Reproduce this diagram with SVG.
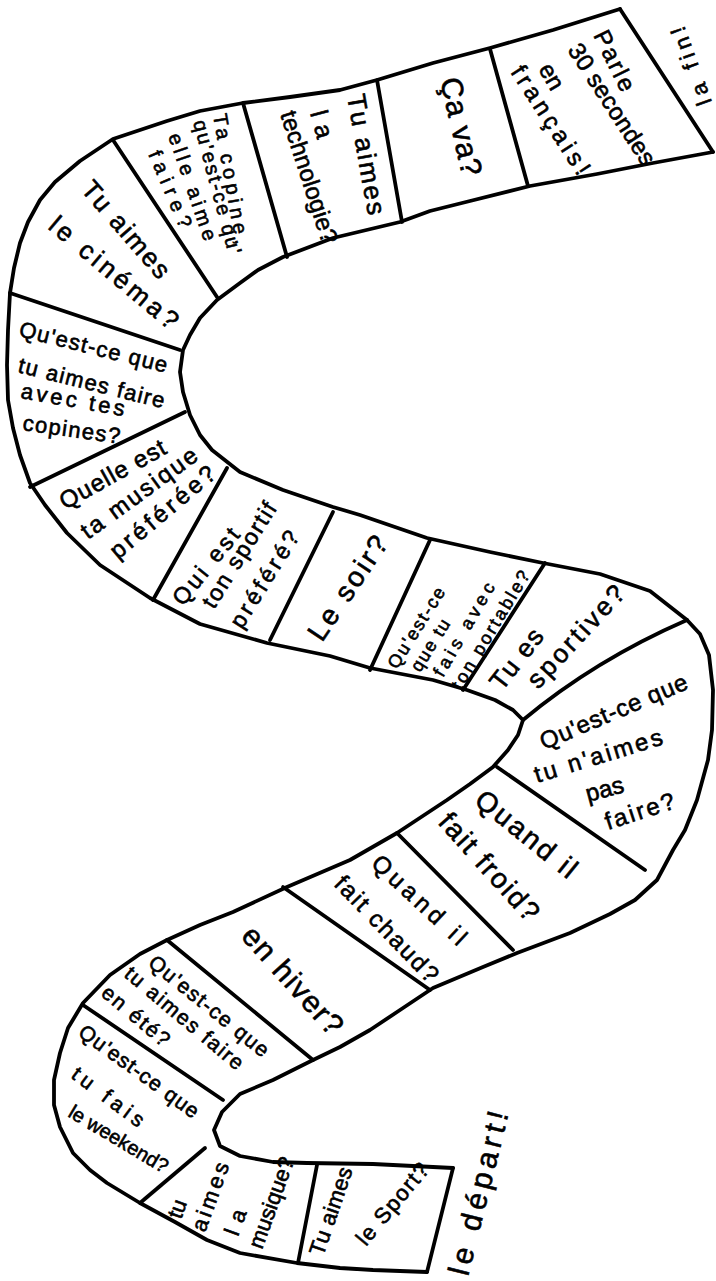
<svg xmlns="http://www.w3.org/2000/svg" width="716" height="1281" viewBox="0 0 716 1281">
<style>
.ln{fill:none;stroke:#000;stroke-width:3.8;stroke-linecap:round;stroke-linejoin:round}
text{font-family:"Liberation Sans",Arial,sans-serif;fill:#000;stroke:#000;stroke-width:0.6}
</style>
<rect x="0" y="0" width="716" height="1281" fill="#fff"/>
<g id="board-outline">
<path class="ln" d="M620,9 L553,30 L490,48 L433,63 L377,80 L340,90 L290,97 L243,103 L200,111 L167,121 L113,139 L80,161 L55,182 L40,200 L28,222 L20,243 L14,268 L10,293 L8,330 L7,365 L8,400 L13,428 L20,455 L30,483 L45,505 L67,533 L100,565 L150,598 L200,624 L267,643 L330,656 L370,668 L433,680 L467,690 L495,700 L513,710 L523,720 L518,735 L508,750 L493,767 L470,784 L447,800 L397,833 L350,860 L287,887 L233,912 L200,925 L167,940 L140,954 L110,975 L83,1003 L68,1028 L60,1053 L54,1080 L54,1105 L60,1127 L73,1153 L90,1170 L107,1183 L140,1203 L175,1222 L207,1240 L240,1253 L297,1263 L340,1268 L373,1270 L427,1272"/>
<path class="ln" d="M713,152 L653,163 L597,174 L530,186 L470,201 L430,211 L400,222 L333,238 L283,257 L258,270 L240,283 L217,300 L200,318 L190,335 L183,350 L180,372 L183,392 L190,415 L200,435 L212,450 L240,472 L283,490 L333,507 L360,515 L427,538 L490,552 L543,563 L600,574 L650,591 L687,620 L700,634 L709,655 L713,690 L712,730 L708,760 L697,800 L685,830 L673,850 L657,880 L635,900 L610,914 L570,933 L517,953 L483,967 L433,988 L400,1010 L370,1030 L340,1047 L313,1060 L273,1080 L240,1094 L222,1112 L214,1130 L220,1146 L240,1156 L273,1162 L307,1163 L373,1164 L453,1168"/>
<path class="ln" d="M620,9 L713,152"/>
<path class="ln" d="M453,1168 L427,1272"/>
</g>
<g id="connectors">
<path class="ln" d="M490,49 L528,186"/>
<path class="ln" d="M377,80 L402,222"/>
<path class="ln" d="M243,103 L287,257"/>
<path class="ln" d="M113,140 L217,297"/>
<path class="ln" d="M10,293 L180,350"/>
<path class="ln" d="M185,412 L30,487"/>
<path class="ln" d="M227,468 L153,600"/>
<path class="ln" d="M333,512 L270,640"/>
<path class="ln" d="M430,540 L370,670"/>
<path class="ln" d="M545,563 L463,690"/>
<path class="ln" d="M687,620 Q595,660 523,720"/>
<path class="ln" d="M497,767 L645,870"/>
<path class="ln" d="M397,833 L513,950"/>
<path class="ln" d="M283,887 L430,990"/>
<path class="ln" d="M167,940 L313,1060"/>
<path class="ln" d="M83,1005 L223,1100"/>
<path class="ln" d="M205,1148 L140,1203"/>
<path class="ln" d="M317,1165 L298,1263"/>
</g>
<g id="cell-parle" font-size="24">
<text transform="translate(593,35) rotate(64)" textLength="65">Parle</text>
<text transform="translate(567,50) rotate(57)" textLength="140">30 secondes</text>
<text transform="translate(538,69) rotate(60)">en</text>
<text transform="translate(510,72) rotate(57)" textLength="125">français!</text>
</g>
<g id="cell-ca-va" font-size="30">
<text transform="translate(440,80) rotate(77)" textLength="100">Ça va?</text>
</g>
<g id="cell-technologie">
<text transform="translate(347,96) rotate(80)" font-size="26" textLength="122">Tu aimes</text>
<text transform="translate(310,113) rotate(75)" font-size="25" textLength="28">la</text>
<text transform="translate(280,114) rotate(72)" font-size="24" textLength="138">technologie?</text>
</g>
<g id="cell-copine" font-size="20">
<text transform="translate(213,115) rotate(80)" textLength="132">Ta copine,</text>
<text transform="translate(193,122) rotate(75)" textLength="138">qu'est-ce qu'</text>
<text transform="translate(168,136) rotate(71)" textLength="112">elle aime</text>
<text transform="translate(148,154) rotate(67)" textLength="82">faire?</text>
</g>
<g id="cell-cinema" font-size="26">
<text transform="translate(80,190) rotate(49)" textLength="120">Tu aimes</text>
<text transform="translate(47,228) rotate(40)" textLength="160">le cinéma?</text>
</g>
<g id="cell-copines" font-size="22">
<text transform="translate(18,336) rotate(14)" textLength="152">Qu'est-ce que</text>
<text transform="translate(17,372) rotate(14)" textLength="150">tu aimes faire</text>
<text transform="translate(20,398) rotate(10)" textLength="105">avec tes</text>
<text transform="translate(22,430) rotate(8)" textLength="98">copines?</text>
</g>
<g id="cell-musique-preferee" font-size="24">
<text transform="translate(65,510) rotate(-29)" textLength="118">Quelle est</text>
<text transform="translate(88,540) rotate(-36)" textLength="138">ta musique</text>
<text transform="translate(118,560) rotate(-40)" textLength="130">préférée?</text>
</g>
<g id="cell-sportif" font-size="23">
<text transform="translate(183,607) rotate(-51)" textLength="92">Qui est</text>
<text transform="translate(214,610) rotate(-58)" textLength="120">ton sportif</text>
<text transform="translate(242,630) rotate(-58)" textLength="110">préféré?</text>
</g>
<g id="cell-soir" font-size="28">
<text transform="translate(322,643) rotate(-56)" textLength="120">Le soir?</text>
</g>
<g id="cell-portable" font-size="18">
<text transform="translate(397,670) rotate(-58)" textLength="92">Qu'est-ce</text>
<text transform="translate(420,673) rotate(-58)" textLength="58">que tu</text>
<text transform="translate(443,678) rotate(-60)" textLength="105">fais avec</text>
<text transform="translate(461,691) rotate(-59)" textLength="135">ton portable?</text>
</g>
<g id="cell-sportive" font-size="26">
<text transform="translate(502,692) rotate(-52)" textLength="70">Tu es</text>
<text transform="translate(538,690) rotate(-47)" textLength="130">sportive?</text>
</g>
<g id="cell-naimes-pas" font-size="24">
<text transform="translate(544,750) rotate(-23)" textLength="158">Qu'est-ce que</text>
<text transform="translate(537,783) rotate(-17)" textLength="133">tu n'aimes</text>
<text transform="translate(588,802) rotate(-15)">pas</text>
<text transform="translate(608,830) rotate(-18)" textLength="72">faire?</text>
</g>
<g id="cell-froid" font-size="28">
<text transform="translate(473,803) rotate(39)" textLength="122">Quand il</text>
<text transform="translate(437,823) rotate(48)" textLength="135">fait froid?</text>
</g>
<g id="cell-chaud" font-size="24">
<text transform="translate(370,865) rotate(43)" textLength="120">Quand il</text>
<text transform="translate(333,885) rotate(46)" textLength="138">fait chaud?</text>
</g>
<g id="cell-hiver" font-size="30">
<text transform="translate(240,937) rotate(48)" textLength="135">en hiver?</text>
</g>
<g id="cell-ete" font-size="21">
<text transform="translate(147,965) rotate(39)" textLength="148">Qu'est-ce que</text>
<text transform="translate(123,976) rotate(40)" textLength="148">tu aimes faire</text>
<text transform="translate(100,995) rotate(40)" textLength="82">en été?</text>
</g>
<g id="cell-weekend" font-size="21">
<text transform="translate(77,1035) rotate(36)" textLength="143">Qu'est-ce que</text>
<text transform="translate(70,1077) rotate(37)" textLength="85">tu fais</text>
<text transform="translate(67,1116) rotate(31)" font-size="20">le weekend?</text>
</g>
<g id="cell-musique" font-size="22">
<text transform="translate(181,1220) rotate(-70)">tu</text>
<text transform="translate(205,1233) rotate(-70)" textLength="72">aimes</text>
<text transform="translate(238,1237) rotate(-70)" textLength="26">la</text>
<text transform="translate(262,1250) rotate(-70)">musique?</text>
</g>
<g id="cell-sport" font-size="22">
<text transform="translate(323,1257) rotate(-71)" textLength="92">Tu aimes</text>
<text transform="translate(366,1247) rotate(-50)" textLength="100">le Sport?</text>
</g>
<g id="label-depart" font-size="30">
<text transform="translate(468,1277) rotate(-76)" textLength="168">le départ!</text>
</g>
<g id="label-fin" font-size="22">
<text transform="translate(712,102) rotate(-110)" textLength="82">la fin!</text>
</g>
</svg>
